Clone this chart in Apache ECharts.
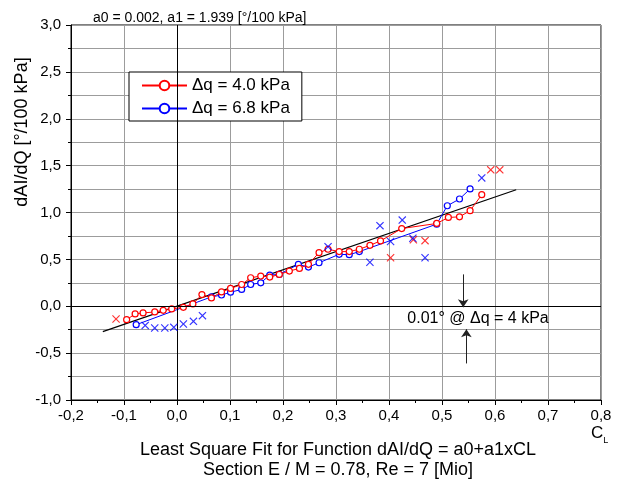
<!DOCTYPE html>
<html>
<head>
<meta charset="utf-8">
<script src="https://cdn.jsdelivr.net/npm/echarts/dist/echarts.min.js"></script>
<style>
html, body { margin: 0; padding: 0; background: #fff; }
#main { width: 627px; height: 484px; }
</style>
</head>
<body>
<div id="main"></div>
<script>
// dq = 4.0 kPa, Kreise mit Linie
var red_x = [-0.095, -0.079, -0.064, -0.042, -0.026, -0.010, 0.012, 0.030, 0.047, 0.065, 0.084, 0.101,
    0.122, 0.139, 0.158, 0.175, 0.193, 0.212, 0.231, 0.248, 0.268, 0.285, 0.306, 0.325, 0.344,
    0.364, 0.384, 0.424, 0.490, 0.512, 0.533, 0.553, 0.575];
var red_y = [-0.143, -0.082, -0.071, -0.061, -0.043, -0.029, -0.011, 0.025, 0.125, 0.089, 0.153, 0.190,
    0.232, 0.304, 0.322, 0.311, 0.340, 0.375, 0.404, 0.447, 0.572, 0.608, 0.583, 0.583, 0.608,
    0.650, 0.697, 0.829, 0.883, 0.947, 0.954, 1.019, 1.190];
// dq = 4.0 kPa, Kreuze
var redCross_x = [-0.115, 0.403, 0.446, 0.468, 0.592, 0.609];
var redCross_y = [-0.136, 0.518, 0.710, 0.700, 1.455, 1.455];

// dq = 6.8 kPa, Kreise mit Linie
var blue_x = [-0.077, 0.065, 0.084, 0.101, 0.122, 0.139, 0.158, 0.175, 0.193, 0.229, 0.248, 0.268,
    0.306, 0.325, 0.344, 0.490, 0.510, 0.533, 0.553];
var blue_y = [-0.197, 0.100, 0.120, 0.150, 0.179, 0.232, 0.250, 0.332, 0.340, 0.447, 0.418, 0.464,
    0.554, 0.550, 0.583, 0.876, 1.072, 1.144, 1.251];
// dq = 6.8 kPa, Kreuze
var blueCross_x = [-0.060, -0.042, -0.023, -0.006, 0.012, 0.031, 0.048, 0.285, 0.364, 0.383, 0.403,
    0.425, 0.445, 0.468, 0.575];
var blueCross_y = [-0.204, -0.232, -0.232, -0.225, -0.190, -0.161, -0.100, 0.636, 0.470, 0.860, 0.690,
    0.919, 0.726, 0.518, 1.369];

// Ausgleichsgerade a0 + a1*CL
var fit_x = [-0.14, 0.64];
var fit_y = [-0.27, 1.243];

var legendNames = ['\u0394q = 4.0 kPa', '\u0394q = 6.8 kPa'];

function pairs(xs, ys){
    var out = [];
    for(var i = 0; i < xs.length; i++){
        out.push([xs[i], ys[i]]);
    }
    return out;
}

function comma(v){
    if(Math.abs(v) < 1e-9) return '0,0';
    return v.toFixed(1).replace('.', ',');
}

var font = 'Liberation Sans';
var gridGray = '#9c9c9c';
var crossPath = 'path://M0,1L1,0L5,4L9,0L10,1L6,5L10,9L9,10L5,6L1,10L0,9L4,5Z';

var myChart = echarts.init(document.getElementById('main'));

var option = {
    backgroundColor: '#fff',
    animation: false,
    textStyle: { fontFamily: font },
    title: {
        text: 'a0 = 0.002, a1 = 1.939 [\u00b0/100 kPa]',
        left: 88, top: 6,
        textStyle: { fontFamily: font, fontSize: 14, fontWeight: 'normal', color: '#000' }
    },
    grid: { left: 71, right: 26, top: 25, bottom: 84, show: true, borderColor: '#000', borderWidth: 1 },
    legend: {
        data: legendNames,
        orient: 'vertical',
        left: 129, top: 72,
        padding: [5, 12, 4, 12],
        itemWidth: 45, itemHeight: 12, itemGap: 6,
        backgroundColor: '#fff',
        borderColor: '#000', borderWidth: 1,
        textStyle: { fontFamily: font, fontSize: 17, color: '#000' }
    },
    xAxis: {
        type: 'value',
        min: -0.2, max: 0.8, interval: 0.1,
        axisLine: { show: true, onZero: false, lineStyle: { color: '#000' } },
        axisTick: { show: true, length: 5, lineStyle: { color: '#000' } },
        minorTick: { show: true, splitNumber: 2, length: 3, lineStyle: { color: '#000' } },
        splitLine: { show: true, lineStyle: { color: gridGray, width: 1 } },
        axisLabel: { formatter: comma, color: '#000', fontSize: 15, fontFamily: font, margin: 8 }
    },
    yAxis: {
        type: 'value',
        min: -1, max: 3, interval: 0.5,
        axisLine: { show: true, onZero: false, lineStyle: { color: '#000' } },
        axisTick: { show: true, length: 5, lineStyle: { color: '#000' } },
        minorTick: { show: true, splitNumber: 2, length: 3, lineStyle: { color: '#000' } },
        splitLine: { show: true, lineStyle: { color: gridGray, width: 1 } },
        minorSplitLine: { show: true, lineStyle: { color: gridGray, width: 1 } },
        axisLabel: { formatter: comma, color: '#000', fontSize: 15, fontFamily: font, margin: 10 }
    },
    graphic: [
        {
            type: 'text', x: 22, y: 132, rotation: Math.PI / 2,
            style: { text: 'dAI/dQ [\u00b0/100 kPa]', fontFamily: font, fontSize: 18, fill: '#000',
                align: 'center', verticalAlign: 'middle' }
        },
        {
            type: 'text', x: 591, y: 422,
            style: {
                text: '{a|C}{b|L}',
                rich: {
                    a: { fontFamily: font, fontSize: 17, fill: '#000', color: '#000' },
                    b: { fontFamily: font, fontSize: 9, fill: '#000', color: '#000', padding: [14, 0, 0, 0] }
                }
            }
        },
        {
            type: 'text', x: 338, y: 450,
            style: { text: 'Least Square Fit for Function dAI/dQ = a0+a1xCL', fontFamily: font, fontSize: 18,
                fill: '#000', align: 'center', verticalAlign: 'middle' }
        },
        {
            type: 'text', x: 338, y: 470,
            style: { text: 'Section E / M = 0.78, Re = 7 [Mio]', fontFamily: font, fontSize: 18,
                fill: '#000', align: 'center', verticalAlign: 'middle' }
        }
    ],
    series: [
        {
            name: legendNames[0],
            type: 'line',
            data: pairs(red_x, red_y),
            symbol: 'circle', symbolSize: 6,
            lineStyle: { color: '#ff0000', width: 1 },
            itemStyle: { color: '#fff', borderColor: '#ff0000', borderWidth: 1.2 },
            z: 4
        },
        {
            name: legendNames[1],
            type: 'line',
            data: pairs(blue_x, blue_y),
            symbol: 'circle', symbolSize: 6,
            lineStyle: { color: '#0000ff', width: 1 },
            itemStyle: { color: '#fff', borderColor: '#0000ff', borderWidth: 1.2 },
            z: 3
        },
        {
            name: 'redCross',
            type: 'scatter',
            data: pairs(redCross_x, redCross_y),
            symbol: crossPath, symbolSize: 8,
            itemStyle: { color: '#ff0000' },
            z: 5
        },
        {
            name: 'blueCross',
            type: 'scatter',
            data: pairs(blueCross_x, blueCross_y),
            symbol: crossPath, symbolSize: 8,
            itemStyle: { color: '#0000ff' },
            z: 5
        },
        {
            name: 'fit',
            type: 'line',
            data: pairs(fit_x, fit_y),
            symbol: 'none',
            lineStyle: { color: '#000', width: 1.2 },
            z: 2,
            markLine: {
                silent: true, symbol: 'none',
                label: { show: false },
                lineStyle: { color: '#000', width: 1, type: 'solid' },
                data: [{ xAxis: 0 }, { yAxis: 0 }]
            }
        },
        {
            name: 'note',
            type: 'line',
            data: [],
            markLine: {
                silent: true,
                symbol: ['none', 'arrow'], symbolSize: 8,
                label: { show: false },
                lineStyle: { color: '#222', width: 1, type: 'solid' },
                itemStyle: { color: '#222' },
                data: [
                    [{ coord: [0.54, 0.34] }, { coord: [0.54, -0.01] }],
                    [{ coord: [0.546, -0.61] }, { coord: [0.546, -0.245] }]
                ]
            },
            markPoint: {
                silent: true,
                symbol: 'circle', symbolSize: 0,
                data: [{ coord: [0.568, -0.135] }],
                label: {
                    show: true, position: 'inside',
                    formatter: '0.01\u00b0 @ \u0394q = 4 kPa',
                    fontFamily: font, fontSize: 16, color: '#000'
                }
            }
        }
    ]
};
myChart.setOption(option);
</script>
</body>
</html>
